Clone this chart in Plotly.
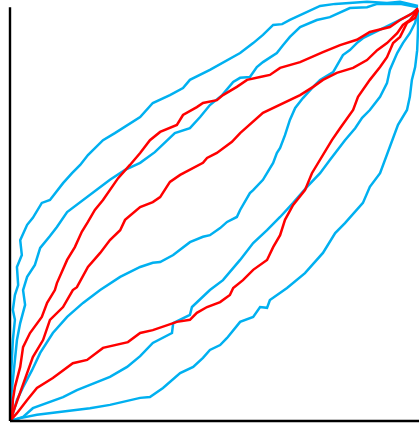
import plotly.graph_objects as go

# Curves (data units, 0..1)
blue_a_x = [0, 0.002, 0.002, 0.005, 0.007, 0.012, 0.007, 0.012, 0.020, 0.017, 0.029, 0.025, 0.042, 0.056, 0.078, 0.098, 0.130, 0.152, 0.172, 0.191, 0.228, 0.257, 0.289, 0.319, 0.350, 0.392, 0.424, 0.441, 0.490, 0.522, 0.564, 0.596, 0.620, 0.645, 0.667, 0.686, 0.711, 0.735, 0.760, 0.797, 0.833, 0.875, 0.924, 0.956, 1.0]
blue_a_y = [0, 0.051, 0.099, 0.148, 0.196, 0.245, 0.269, 0.305, 0.329, 0.373, 0.402, 0.438, 0.475, 0.492, 0.528, 0.535, 0.576, 0.600, 0.620, 0.644, 0.680, 0.697, 0.717, 0.736, 0.770, 0.789, 0.806, 0.826, 0.850, 0.867, 0.891, 0.915, 0.935, 0.959, 0.961, 0.971, 0.983, 0.995, 1.005, 1.010, 1.012, 1.015, 1.012, 1.015, 1.005]

blue_b_x = [0, 0.002, 0.007, 0.012, 0.017, 0.025, 0.037, 0.032, 0.042, 0.061, 0.074, 0.098, 0.115, 0.140, 0.172, 0.213, 0.245, 0.282, 0.319, 0.355, 0.387, 0.404, 0.441, 0.466, 0.490, 0.520, 0.547, 0.564, 0.588, 0.605, 0.620, 0.637, 0.654, 0.669, 0.686, 0.711, 0.752, 0.784, 0.833, 0.875, 0.900, 0.956, 1.0]
blue_b_y = [0, 0.051, 0.099, 0.148, 0.196, 0.237, 0.281, 0.317, 0.349, 0.378, 0.419, 0.448, 0.470, 0.506, 0.530, 0.559, 0.584, 0.608, 0.625, 0.651, 0.680, 0.697, 0.709, 0.736, 0.765, 0.789, 0.821, 0.831, 0.833, 0.857, 0.869, 0.879, 0.891, 0.910, 0.930, 0.954, 0.971, 0.978, 1.000, 1.002, 1.010, 1.010, 1.002]

blue_m_x = [0, 0.005, 0.017, 0.032, 0.054, 0.074, 0.105, 0.140, 0.179, 0.221, 0.270, 0.319, 0.350, 0.368, 0.400, 0.441, 0.473, 0.490, 0.515, 0.532, 0.556, 0.564, 0.588, 0.596, 0.620, 0.630, 0.645, 0.654, 0.662, 0.674, 0.686, 0.699, 0.718, 0.743, 0.760, 0.792, 0.816, 0.833, 0.850, 0.865, 0.890, 0.924, 0.956, 0.980, 1.0]
blue_m_y = [0, 0.010, 0.051, 0.082, 0.123, 0.165, 0.213, 0.252, 0.286, 0.317, 0.349, 0.373, 0.383, 0.385, 0.402, 0.433, 0.446, 0.450, 0.467, 0.482, 0.494, 0.511, 0.552, 0.559, 0.584, 0.600, 0.625, 0.649, 0.661, 0.692, 0.729, 0.758, 0.782, 0.809, 0.826, 0.845, 0.886, 0.898, 0.915, 0.927, 0.939, 0.954, 0.971, 0.983, 0.998]

blue_l1_x = [0, 0.032, 0.056, 0.091, 0.130, 0.164, 0.245, 0.287, 0.319, 0.350, 0.397, 0.400, 0.441, 0.446, 0.490, 0.522, 0.564, 0.596, 0.630, 0.662, 0.694, 0.728, 0.760, 0.784, 0.821, 0.846, 0.863, 0.882, 0.907, 0.924, 0.931, 0.949, 0.963, 0.980, 0.993, 1.0]
blue_l1_y = [0, 0.010, 0.031, 0.044, 0.058, 0.075, 0.107, 0.131, 0.157, 0.189, 0.213, 0.237, 0.257, 0.276, 0.317, 0.341, 0.390, 0.431, 0.462, 0.494, 0.528, 0.567, 0.600, 0.632, 0.680, 0.709, 0.734, 0.753, 0.785, 0.818, 0.850, 0.891, 0.915, 0.939, 0.964, 0.995]

blue_l2_x = [0, 0.025, 0.066, 0.130, 0.196, 0.245, 0.319, 0.343, 0.375, 0.417, 0.449, 0.473, 0.490, 0.515, 0.532, 0.564, 0.596, 0.613, 0.630, 0.637, 0.662, 0.679, 0.723, 0.767, 0.797, 0.821, 0.865, 0.882, 0.907, 0.936, 0.951, 0.973, 0.980, 0.985, 0.993, 0.998, 1.0, 1.0]
blue_l2_y = [0, 0.007, 0.015, 0.022, 0.031, 0.039, 0.056, 0.058, 0.080, 0.116, 0.131, 0.153, 0.172, 0.184, 0.201, 0.240, 0.252, 0.276, 0.274, 0.293, 0.310, 0.322, 0.358, 0.407, 0.455, 0.479, 0.528, 0.567, 0.600, 0.680, 0.717, 0.753, 0.785, 0.826, 0.857, 0.898, 0.947, 0.995]

red_1_x = [0, 0.005, 0.007, 0.012, 0.025, 0.032, 0.049, 0.078, 0.091, 0.110, 0.115, 0.140, 0.159, 0.176, 0.191, 0.208, 0.228, 0.265, 0.294, 0.319, 0.343, 0.368, 0.409, 0.424, 0.458, 0.473, 0.507, 0.522, 0.556, 0.581, 0.613, 0.637, 0.662, 0.711, 0.767, 0.809, 0.850, 0.882, 0.931, 0.956, 0.988, 1.0]
red_1_y = [0, 0.010, 0.051, 0.082, 0.131, 0.179, 0.213, 0.252, 0.286, 0.317, 0.334, 0.390, 0.421, 0.458, 0.482, 0.511, 0.535, 0.588, 0.620, 0.649, 0.680, 0.700, 0.717, 0.741, 0.760, 0.770, 0.777, 0.789, 0.809, 0.826, 0.833, 0.838, 0.855, 0.869, 0.893, 0.910, 0.923, 0.942, 0.954, 0.971, 0.988, 1.0]

red_2_x = [0, 0.007, 0.025, 0.037, 0.056, 0.081, 0.098, 0.130, 0.154, 0.164, 0.191, 0.221, 0.245, 0.270, 0.282, 0.319, 0.350, 0.368, 0.392, 0.417, 0.441, 0.473, 0.483, 0.507, 0.544, 0.564, 0.620, 0.662, 0.711, 0.743, 0.767, 0.801, 0.841, 0.875, 0.900, 0.924, 0.949, 0.963, 0.980, 1.0]
red_2_y = [0, 0.019, 0.068, 0.099, 0.155, 0.196, 0.245, 0.276, 0.317, 0.324, 0.373, 0.407, 0.438, 0.462, 0.487, 0.518, 0.530, 0.542, 0.579, 0.596, 0.608, 0.625, 0.637, 0.649, 0.676, 0.697, 0.746, 0.765, 0.789, 0.809, 0.826, 0.843, 0.855, 0.874, 0.898, 0.915, 0.939, 0.959, 0.971, 0.995]

red_3_x = [0, 0.017, 0.042, 0.066, 0.105, 0.154, 0.189, 0.228, 0.289, 0.319, 0.350, 0.409, 0.441, 0.458, 0.483, 0.515, 0.539, 0.547, 0.571, 0.596, 0.630, 0.645, 0.662, 0.674, 0.694, 0.723, 0.740, 0.752, 0.789, 0.809, 0.826, 0.841, 0.853, 0.882, 0.907, 0.924, 0.939, 0.956, 0.973, 0.993, 1.0]
red_3_y = [0, 0.019, 0.051, 0.080, 0.104, 0.140, 0.148, 0.177, 0.191, 0.213, 0.220, 0.240, 0.245, 0.262, 0.276, 0.288, 0.305, 0.322, 0.341, 0.366, 0.390, 0.421, 0.450, 0.487, 0.523, 0.559, 0.600, 0.620, 0.680, 0.709, 0.734, 0.753, 0.785, 0.826, 0.857, 0.881, 0.915, 0.930, 0.964, 0.976, 0.995]

BLUE = "#00B0F0"
RED = "#FF0000"
LINE_W = 2.5

fig = go.Figure()
for xs, ys in [(blue_a_x, blue_a_y), (blue_b_x, blue_b_y), (blue_m_x, blue_m_y),
               (blue_l1_x, blue_l1_y), (blue_l2_x, blue_l2_y)]:
    fig.add_trace(go.Scatter(x=xs, y=ys, mode="lines",
                             line=dict(color=BLUE, width=LINE_W), hoverinfo="skip"))
for xs, ys in [(red_1_x, red_1_y), (red_2_x, red_2_y), (red_3_x, red_3_y)]:
    fig.add_trace(go.Scatter(x=xs, y=ys, mode="lines",
                             line=dict(color=RED, width=LINE_W), hoverinfo="skip"))

# axis lines (left and bottom)
fig.add_shape(type="line", xref="paper", yref="paper", x0=0, x1=0, y0=0, y1=0.983,
              line=dict(color="black", width=2.4))
fig.add_shape(type="line", xref="paper", yref="paper", x0=0, x1=1, y0=0, y1=0,
              line=dict(color="black", width=2.4))

fig.update_layout(
    width=419, height=428,
    margin=dict(l=10, r=0, t=0, b=7),
    paper_bgcolor="white", plot_bgcolor="white",
    showlegend=False,
    xaxis=dict(range=[0, 1.00245], visible=False, fixedrange=True),
    yaxis=dict(range=[0, 1.0194], visible=False, fixedrange=True),
)
fig.write_html(
    "out.html",
    config={"displayModeBar": False},
    post_script="document.body.style.margin='0';document.body.style.padding='0';document.body.style.overflow='hidden';",
)
